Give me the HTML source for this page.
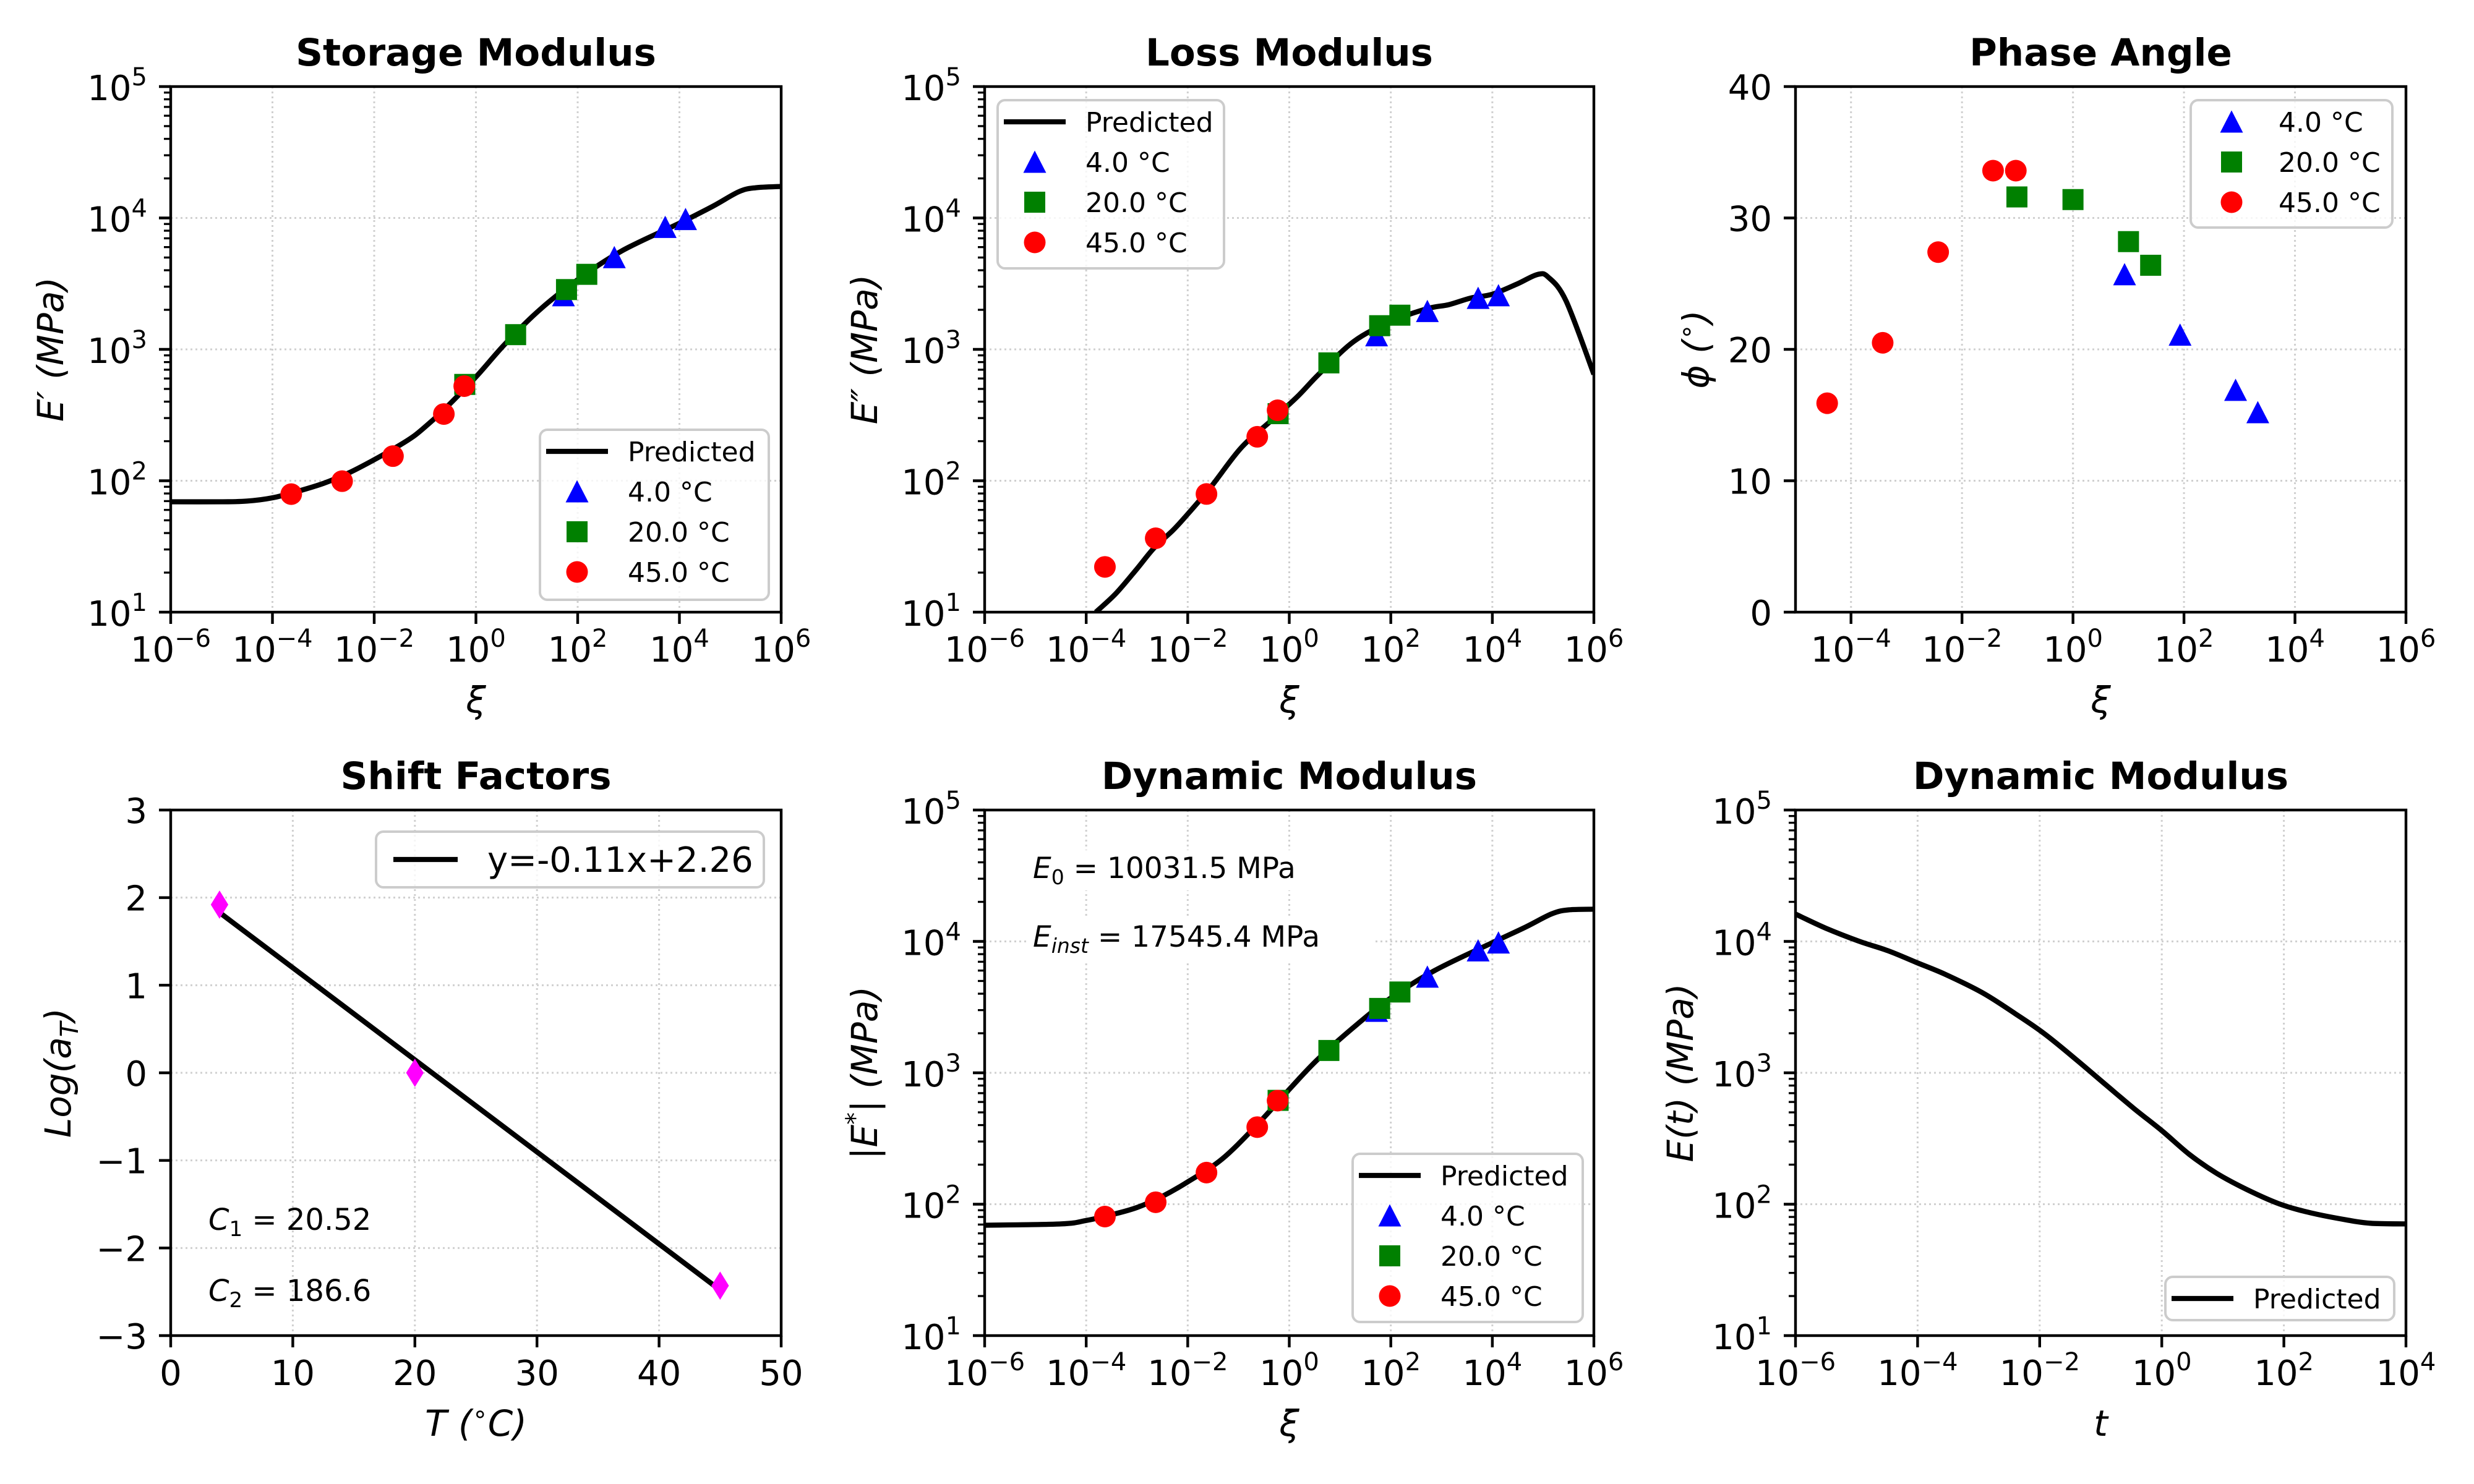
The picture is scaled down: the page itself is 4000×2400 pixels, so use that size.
<!DOCTYPE html>
<html><head><meta charset="utf-8"><title>Viscoelastic master curves</title>
<style>
html,body{margin:0;padding:0;background:#fff;}
svg{display:block;font-family:"DejaVu Sans","Liberation Sans",sans-serif;}
</style></head>
<body>
<svg id="chart" xmlns="http://www.w3.org/2000/svg" width="4000" height="2400" viewBox="0 0 4000 2400">
<rect x="0" y="0" width="4000" height="2400" fill="#fff"/>
</svg>
<script>
// ---------- DATA ----------
const tempLabels = ["4.0 °C", "20.0 °C", "45.0 °C"];
// reduced frequency of measured points (storage / loss / dynamic panels)
const xiBlue  = [52.5, 525, 5250, 13200];
const xiGreen = [0.603, 6.03, 60.3, 151];
const xiRed   = [2.34e-4, 2.34e-3, 0.0234, 0.234, 0.589];
// storage modulus E' (MPa)
const storBlue  = [2570, 5012, 8511, 9772];
const storGreen = [541, 1294, 2851, 3724];
const storRed   = [79.1, 99.3, 154, 322, 525];
// loss modulus E'' (MPa)
const lossBlue  = [1274, 1950, 2455, 2570];
const lossGreen = [324, 789, 1514, 1820];
const lossRed   = [22.1, 36.5, 79.3, 216, 344];
// dynamic modulus |E*| (MPa)
const dynBlue  = [2951, 5370, 8511, 9772];
const dynGreen = [617, 1479, 3090, 4121];
const dynRed   = [80.5, 103.5, 174, 386, 614];
// phase angle panel
const phXiBlue  = [8.5, 85, 851, 2138];
const phXiGreen = [0.0977, 1.0, 10, 25.1];
const phXiRed   = [3.72e-5, 3.72e-4, 3.72e-3, 0.0363, 0.0933];
const phiBlue  = [25.7, 21.1, 16.9, 15.2];
const phiGreen = [31.6, 31.4, 28.2, 26.4];
const phiRed   = [15.9, 20.5, 27.4, 33.6, 33.6];
// predicted curves (log10 values)
const storCurveLogXi = [-6,-5,-4.5,-4,-3.5,-3,-2.5,-2,-1.5,-1.22,-1,-0.63,0,0.57,1.25,2,2.87,4,4.66,5.17,5.5,6];
const storCurveLogE  = [1.84,1.84,1.845,1.87,1.92,1.98,2.06,2.16,2.27,2.34,2.41,2.54,2.79,3.04,3.30,3.53,3.75,3.96,4.09,4.20,4.23,4.24];
const lossCurveLogXi = [-3.81,-3.42,-3.0,-2.66,-2.3,-2.06,-1.55,-0.95,-0.35,0.16,0.58,1.27,1.99,2.72,3.14,3.57,4.0,4.5,4.89,5.1,5.45,6];
const lossCurveLogE  = [1.0,1.14,1.33,1.49,1.62,1.72,1.95,2.25,2.46,2.64,2.81,3.06,3.21,3.31,3.34,3.39,3.42,3.50,3.57,3.55,3.37,2.81];
const dynCurveLogXi = [-6,-4.5,-4,-3.5,-3,-2.5,-2,-1.32,-0.62,0,0.57,1.34,2,2.87,4,4.66,5.17,5.5,6];
const dynCurveLogE  = [1.84,1.85,1.876,1.92,1.975,2.06,2.17,2.345,2.61,2.874,3.106,3.37,3.57,3.78,3.99,4.11,4.21,4.24,4.245];
const relaxLogT = [-6,-5.5,-4.95,-4.49,-4.02,-3.55,-2.94,-2.40,-1.93,-1.40,-0.92,-0.46,0,0.45,0.9,1.40,1.94,2.48,3.03,3.42,4];
const relaxLogE = [4.208,4.10,4.0,3.93,3.84,3.75,3.61,3.45,3.30,3.10,2.91,2.73,2.56,2.38,2.235,2.11,2.0,1.93,1.88,1.855,1.85];
// shift factors
const shiftTemps = [4, 20, 45];
const shiftLogA  = [1.92, 0.0, -2.43];
const fitT = [4, 45];
const fitLogA = [1.83, -2.48];
const logXiTicks = [-6,-4,-2,0,2,4,6];
const logYTicks = [1,2,3,4,5];

// ---------- DRAWING ----------
const NS = 'http://www.w3.org/2000/svg';
const svg = document.getElementById('chart');
function mk(tag, attrs, parent){
  const e = document.createElementNS(NS, tag);
  for (const k in attrs) e.setAttribute(k, attrs[k]);
  (parent || svg).appendChild(e);
  return e;
}
function nm(el, n){
  
  
}
const TOP = {y0:140, y1:990}, BOT = {y0:1310, y1:2160};
const P1 = {x0:276, x1:1263, y0:TOP.y0, y1:TOP.y1};
const P2 = {x0:1592, x1:2577, y0:TOP.y0, y1:TOP.y1};
const P3 = {x0:2903, x1:3890, y0:TOP.y0, y1:TOP.y1};
const P4 = {x0:276, x1:1263, y0:BOT.y0, y1:BOT.y1};
const P5 = {x0:1592, x1:2577, y0:BOT.y0, y1:BOT.y1};
const P6 = {x0:2903, x1:3890, y0:BOT.y0, y1:BOT.y1};

function sx(p, v){ return p.x0 + (v - p.xlo) / (p.xhi - p.xlo) * (p.x1 - p.x0); }
function sy(p, v){ return p.y1 - (v - p.ylo) / (p.yhi - p.ylo) * (p.y1 - p.y0); }
const L = Math.log10;

let clipId = 0;
function setupPanel(p, key){
  const g = mk('g', {});
  nm(g, key + '-panel');
  p.g = g;
  clipId++;
  const cp = mk('clipPath', {id:'clip' + clipId}, g);
  mk('rect', {x:p.x0, y:p.y0, width:p.x1 - p.x0, height:p.y1 - p.y0}, cp);
  p.clip = 'url(#clip' + clipId + ')';
  const bg = mk('rect', {x:p.x0, y:p.y0, width:p.x1 - p.x0, height:p.y1 - p.y0, fill:'#fff'}, g);
  nm(bg, key + '-plot-area');
  p.gridG = mk('g', {}, g);
  nm(p.gridG, key + '-grid');
  p.dataG = mk('g', {'clip-path':p.clip}, g);
  nm(p.dataG, key + '-data');
  p.axG = mk('g', {}, g);
  nm(p.axG, key + '-axes');
}
function grid(p, xs, ys, key){
  xs.forEach(v => {
    const x = sx(p, v);
    const l = mk('line', {x1:x, x2:x, y1:p.y0, y2:p.y1, stroke:'#d0d0d0', 'stroke-width':3, 'stroke-dasharray':'3 5'}, p.gridG);
    nm(l, key + '-x-gridline');
  });
  ys.forEach(v => {
    const y = sy(p, v);
    const l = mk('line', {x1:p.x0, x2:p.x1, y1:y, y2:y, stroke:'#d0d0d0', 'stroke-width':3, 'stroke-dasharray':'3 5'}, p.gridG);
    nm(l, key + '-y-gridline');
  });
}
function powText(parent, x, y, exp, anchor){
  const t = mk('text', {x:x, y:y, 'font-size':56, 'text-anchor':anchor, fill:'#000'}, parent);
  t.appendChild(document.createTextNode('10'));
  const s = mk('tspan', {'font-size':40, dy:-24}, t);
  s.textContent = (exp < 0 ? '\u2212' + (-exp) : '' + exp);
  return t;
}
function spines(p, key){
  const r = mk('rect', {x:p.x0, y:p.y0, width:p.x1 - p.x0, height:p.y1 - p.y0, fill:'none', stroke:'#000', 'stroke-width':4.4}, p.axG);
  nm(r, key + '-spines');
}
function xTicksLog(p, exps, key){
  exps.forEach(e => {
    const x = sx(p, e);
    const t = mk('line', {x1:x, x2:x, y1:p.y1, y2:p.y1 + 19, stroke:'#000', 'stroke-width':4.4}, p.axG);
    nm(t, key + '-x-tick');
    const lb = powText(p.axG, x, p.y1 + 80, e, 'middle');
    nm(lb, key + '-x-tick-label');
  });
}
function yTicksLog(p, exps, key){
  exps.forEach(e => {
    const y = sy(p, e);
    const t = mk('line', {x1:p.x0 - 19, x2:p.x0, y1:y, y2:y, stroke:'#000', 'stroke-width':4.4}, p.axG);
    nm(t, key + '-y-tick');
    const lb = powText(p.axG, p.x0 - 38, y + 22, e, 'end');
    nm(lb, key + '-y-tick-label');
    if (e < p.yhi){
      for (let k = 2; k <= 9; k++){
        const ym = sy(p, e + L(k));
        const m = mk('line', {x1:p.x0 - 11, x2:p.x0, y1:ym, y2:ym, stroke:'#000', 'stroke-width':3.3}, p.axG);
        nm(m, key + '-y-minor-tick');
      }
    }
  });
}
function linTicks(p, vals, axis, key){
  vals.forEach(v => {
    const lab = (v < 0 ? '\u2212' + (-v) : '' + v);
    if (axis === 'x'){
      const x = sx(p, v);
      const t = mk('line', {x1:x, x2:x, y1:p.y1, y2:p.y1 + 19, stroke:'#000', 'stroke-width':4.4}, p.axG);
      nm(t, key + '-x-tick');
      const tx = mk('text', {x:x, y:p.y1 + 80, 'font-size':56, 'text-anchor':'middle'}, p.axG);
      tx.textContent = lab;
      nm(tx, key + '-x-tick-label');
    } else {
      const y = sy(p, v);
      const t = mk('line', {x1:p.x0 - 19, x2:p.x0, y1:y, y2:y, stroke:'#000', 'stroke-width':4.4}, p.axG);
      nm(t, key + '-y-tick');
      const tx = mk('text', {x:p.x0 - 38, y:y + 21, 'font-size':56, 'text-anchor':'end'}, p.axG);
      tx.textContent = lab;
      nm(tx, key + '-y-tick-label');
    }
  });
}
function title(p, txt, key){
  const t = mk('text', {x:(p.x0 + p.x1) / 2, y:p.y0 - 34, 'font-size':61, 'font-weight':'bold', 'text-anchor':'middle'}, p.g);
  t.textContent = txt;
  nm(t, key + '-title');
}
function xLabel(p, html, key){
  const t = mk('text', {x:(p.x0 + p.x1) / 2, y:p.y1 + 162, 'font-size':58, 'font-style':'italic', 'text-anchor':'middle'}, p.g);
  t.innerHTML = html;
  nm(t, key + '-x-axis-title');
}
function yLabel(p, cx, html, key){
  const cy = (p.y0 + p.y1) / 2;
  const t = mk('text', {x:cx + 20, y:cy, 'font-size':58, 'font-style':'italic', 'text-anchor':'middle', transform:'rotate(-90 ' + (cx + 20) + ' ' + cy + ')'}, p.g);
  t.innerHTML = html;
  nm(t, key + '-y-axis-title');
}
function smoothPath(pts){
  let d = 'M' + pts[0][0].toFixed(1) + ',' + pts[0][1].toFixed(1);
  for (let i = 0; i < pts.length - 1; i++){
    const p0 = pts[i - 1] || pts[i], p1 = pts[i], p2 = pts[i + 1], p3 = pts[i + 2] || p2;
    const c1 = [p1[0] + (p2[0] - p0[0]) / 6, p1[1] + (p2[1] - p0[1]) / 6];
    const c2 = [p2[0] - (p3[0] - p1[0]) / 6, p2[1] - (p3[1] - p1[1]) / 6];
    d += 'C' + c1[0].toFixed(1) + ',' + c1[1].toFixed(1) + ' ' + c2[0].toFixed(1) + ',' + c2[1].toFixed(1) + ' ' + p2[0].toFixed(1) + ',' + p2[1].toFixed(1);
  }
  return d;
}
function curve(p, xs, ys, key){
  const pts = xs.map((x, i) => [sx(p, x), sy(p, ys[i])]);
  const path = mk('path', {d:smoothPath(pts), fill:'none', stroke:'#000', 'stroke-width':8.3, 'stroke-linejoin':'round'}, p.dataG);
  nm(path, key + '-predicted-curve');
}
function marker(parent, type, x, y){
  let e;
  if (type === 'tri'){
    e = mk('polygon', {points:x + ',' + (y - 18.5) + ' ' + (x - 18.5) + ',' + (y + 17.5) + ' ' + (x + 18.5) + ',' + (y + 17.5), fill:'#0000ff'}, parent);
  } else if (type === 'sq'){
    e = mk('rect', {x:x - 17, y:y - 17, width:34, height:34, fill:'#008000'}, parent);
  } else if (type === 'circ'){
    e = mk('circle', {cx:x, cy:y, r:17.5, fill:'#ff0000'}, parent);
  } else {
    e = mk('polygon', {points:x + ',' + (y - 21) + ' ' + (x - 13) + ',' + y + ' ' + x + ',' + (y + 21) + ' ' + (x + 13) + ',' + y, fill:'#ff00ff', stroke:'#ff00ff', 'stroke-width':2}, parent);
  }
  return e;
}
function scatter(p, xs, ys, type, logX, logY, key){
  xs.forEach((v, i) => {
    const x = sx(p, logX ? L(v) : v);
    const y = sy(p, logY ? L(ys[i]) : ys[i]);
    const m = marker(p.dataG, type, x, y);
    nm(m, key + '-point');
  });
}
function legend(p, box, items, fs, key){
  const g = mk('g', {}, p.g);
  nm(g, key + '-legend');
  const r = mk('rect', {x:box.x, y:box.y, width:box.w, height:box.h, rx:12, fill:'#fff', 'fill-opacity':0.8, stroke:'#cccccc', 'stroke-width':4}, g);
  nm(r, key + '-legend-frame');
  items.forEach((it, i) => {
    const yc = box.y + box.first + i * box.step;
    const hx = box.x + box.hx;
    let h;
    if (it.t === 'line'){
      h = mk('line', {x1:hx - box.hw, x2:hx + box.hw, y1:yc, y2:yc, stroke:'#000', 'stroke-width':8.3}, g);
    } else {
      h = marker(g, it.t, hx, yc);
    }
    nm(h, key + '-legend-handle');
    const t = mk('text', {x:box.x + box.tx, y:yc + fs * 0.36, 'font-size':fs}, g);
    t.textContent = it.label;
    nm(t, key + '-legend-label');
  });
}
const tempItems = [{t:'tri', label:tempLabels[0]}, {t:'sq', label:tempLabels[1]}, {t:'circ', label:tempLabels[2]}];
const legItems = [{t:'line', label:'Predicted'}].concat(tempItems);

// ---------- Panel 1: Storage ----------
Object.assign(P1, {xlo:-6, xhi:6, ylo:1, yhi:5});
setupPanel(P1, 'storage');
grid(P1, logXiTicks, logYTicks, 'storage');
curve(P1, storCurveLogXi, storCurveLogE, 'storage');
scatter(P1, xiBlue, storBlue, 'tri', true, true, 'storage-4c');
scatter(P1, xiGreen, storGreen, 'sq', true, true, 'storage-20c');
scatter(P1, xiRed, storRed, 'circ', true, true, 'storage-45c');
spines(P1, 'storage');
xTicksLog(P1, logXiTicks, 'storage');
yTicksLog(P1, logYTicks, 'storage');
title(P1, 'Storage Modulus', 'storage');
xLabel(P1, 'ξ', 'storage');
yLabel(P1, 82, "E′ (MPa)", 'storage');
legend(P1, {x:873, y:695, w:370, h:275, first:35, step:65, hx:60, hw:50, tx:142}, legItems, 44, 'storage');

// ---------- Panel 2: Loss ----------
Object.assign(P2, {xlo:-6, xhi:6, ylo:1, yhi:5});
setupPanel(P2, 'loss');
grid(P2, logXiTicks, logYTicks, 'loss');
curve(P2, lossCurveLogXi, lossCurveLogE, 'loss');
scatter(P2, xiBlue, lossBlue, 'tri', true, true, 'loss-4c');
scatter(P2, xiGreen, lossGreen, 'sq', true, true, 'loss-20c');
scatter(P2, xiRed, lossRed, 'circ', true, true, 'loss-45c');
spines(P2, 'loss');
xTicksLog(P2, logXiTicks, 'loss');
yTicksLog(P2, logYTicks, 'loss');
title(P2, 'Loss Modulus', 'loss');
xLabel(P2, 'ξ', 'loss');
yLabel(P2, 1398, "E″ (MPa)", 'loss');
legend(P2, {x:1613, y:162, w:366, h:272, first:35, step:65, hx:60, hw:50, tx:142}, legItems, 44, 'loss');

// ---------- Panel 3: Phase ----------
Object.assign(P3, {xlo:-5, xhi:6, ylo:0, yhi:40});
setupPanel(P3, 'phase');
grid(P3, [-4,-2,0,2,4,6], [0,10,20,30,40], 'phase');
scatter(P3, phXiRed, phiRed, 'circ', true, false, 'phase-45c');
scatter(P3, phXiGreen, phiGreen, 'sq', true, false, 'phase-20c');
scatter(P3, phXiBlue, phiBlue, 'tri', true, false, 'phase-4c');
spines(P3, 'phase');
xTicksLog(P3, [-4,-2,0,2,4,6], 'phase');
linTicks(P3, [0,10,20,30,40], 'y', 'phase');
title(P3, 'Phase Angle', 'phase');
xLabel(P3, 'ξ', 'phase');
yLabel(P3, 2742, 'ϕ (<tspan font-size="40" dy="-22">∘</tspan><tspan dy="22">)</tspan>', 'phase');
legend(P3, {x:3542, y:162, w:326, h:206, first:35, step:65, hx:66, hw:50, tx:142}, tempItems, 44, 'phase');

// ---------- Panel 4: Shift factors ----------
Object.assign(P4, {xlo:0, xhi:50, ylo:-3, yhi:3});
setupPanel(P4, 'shift');
grid(P4, [0,10,20,30,40,50], [-3,-2,-1,0,1,2,3], 'shift');
(function(){
  const fit = mk('line', {x1:sx(P4, fitT[0]), y1:sy(P4, fitLogA[0]), x2:sx(P4, fitT[1]), y2:sy(P4, fitLogA[1]), stroke:'#000', 'stroke-width':8.3}, P4.dataG);
  nm(fit, 'shift-fit-line');
})();
scatter(P4, shiftTemps, shiftLogA, 'dia', false, false, 'shift-factor');
spines(P4, 'shift');
linTicks(P4, [0,10,20,30,40,50], 'x', 'shift');
linTicks(P4, [-3,-2,-1,0,1,2,3], 'y', 'shift');
title(P4, 'Shift Factors', 'shift');
xLabel(P4, 'T (<tspan font-size="40" dy="-22">∘</tspan><tspan dy="22">C)</tspan>', 'shift');
yLabel(P4, 94, 'Log(a<tspan font-size="40" dy="12">T</tspan><tspan dy="-12">)</tspan>', 'shift');
legend(P4, {x:608, y:1345, w:627, h:90, first:45, step:0, hx:80, hw:52, tx:180}, [{t:'line', label:'y=-0.11x+2.26'}], 56, 'shift');
(function(){
  const c1 = mk('text', {x:337, y:1989, 'font-size':48}, P4.g);
  c1.innerHTML = '<tspan font-style="italic">C</tspan><tspan font-size="34" dy="10">1</tspan><tspan dy="-10"> = 20.52</tspan>';
  nm(c1, 'c1-annotation');
  const c2 = mk('text', {x:337, y:2104, 'font-size':48}, P4.g);
  c2.innerHTML = '<tspan font-style="italic">C</tspan><tspan font-size="34" dy="10">2</tspan><tspan dy="-10"> = 186.6</tspan>';
  nm(c2, 'c2-annotation');
})();

// ---------- Panel 5: Dynamic modulus ----------
Object.assign(P5, {xlo:-6, xhi:6, ylo:1, yhi:5});
setupPanel(P5, 'dynamic');
grid(P5, logXiTicks, logYTicks, 'dynamic');
(function(){
  const b1 = mk('rect', {x:1660, y:1375, width:520, height:65, fill:'#fff'}, P5.g);
  nm(b1, 'e0-annotation-bg');
  const b2 = mk('rect', {x:1660, y:1485, width:560, height:70, fill:'#fff'}, P5.g);
  nm(b2, 'einst-annotation-bg');
})();
curve(P5, dynCurveLogXi, dynCurveLogE, 'dynamic');
scatter(P5, xiBlue, dynBlue, 'tri', true, true, 'dynamic-4c');
scatter(P5, xiGreen, dynGreen, 'sq', true, true, 'dynamic-20c');
scatter(P5, xiRed, dynRed, 'circ', true, true, 'dynamic-45c');
spines(P5, 'dynamic');
xTicksLog(P5, logXiTicks, 'dynamic');
yTicksLog(P5, logYTicks, 'dynamic');
title(P5, 'Dynamic Modulus', 'dynamic');
xLabel(P5, 'ξ', 'dynamic');
yLabel(P5, 1398, '|E<tspan font-size="40" dy="-22">*</tspan><tspan dy="22">| (MPa)</tspan>', 'dynamic');
legend(P5, {x:2187, y:1866, w:372, h:272, first:35, step:65, hx:60, hw:50, tx:142}, legItems, 44, 'dynamic');
(function(){
  const e0 = mk('text', {x:1670, y:1420, 'font-size':47}, P5.g);
  e0.innerHTML = '<tspan font-style="italic">E</tspan><tspan font-size="33" dy="10">0</tspan><tspan dy="-10"> = 10031.5 MPa</tspan>';
  nm(e0, 'e0-annotation');
  const ei = mk('text', {x:1670, y:1531, 'font-size':47}, P5.g);
  ei.innerHTML = '<tspan font-style="italic">E</tspan><tspan font-size="33" font-style="italic" dy="10">inst</tspan><tspan dy="-10"> = 17545.4 MPa</tspan>';
  nm(ei, 'einst-annotation');
})();

// ---------- Panel 6: Relaxation ----------
Object.assign(P6, {xlo:-6, xhi:4, ylo:1, yhi:5});
setupPanel(P6, 'relaxation');
grid(P6, [-6,-4,-2,0,2,4], logYTicks, 'relaxation');
curve(P6, relaxLogT, relaxLogE, 'relaxation');
spines(P6, 'relaxation');
xTicksLog(P6, [-6,-4,-2,0,2,4], 'relaxation');
yTicksLog(P6, logYTicks, 'relaxation');
title(P6, 'Dynamic Modulus', 'relaxation');
xLabel(P6, 't', 'relaxation');
yLabel(P6, 2717, 'E(t) (MPa)', 'relaxation');
legend(P6, {x:3501, y:2065, w:370, h:70, first:35, step:0, hx:60, hw:50, tx:142}, [{t:'line', label:'Predicted'}], 44, 'relaxation');
</script>
</body></html>
